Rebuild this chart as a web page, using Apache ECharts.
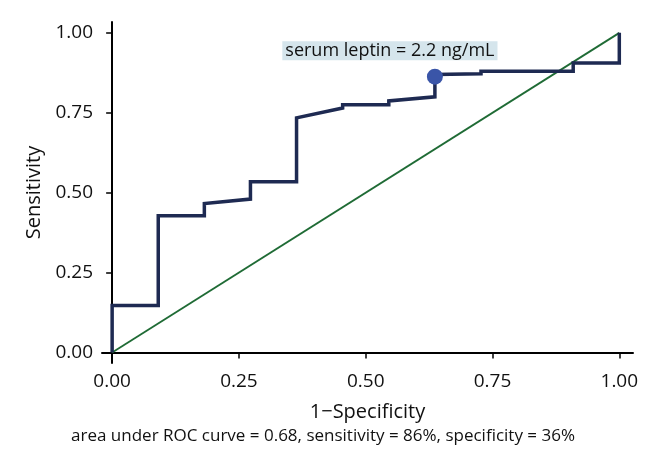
<!DOCTYPE html>
<html>
<head>
<meta charset="utf-8">
<script src="https://cdn.jsdelivr.net/npm/echarts@6/dist/echarts.min.js"></script>
<style>
  html, body { margin: 0; padding: 0; background: #fff; }
  #main { width: 646px; height: 453px; }
</style>
</head>
<body>
<div id="main"></div>
<script>
var myChart = echarts.init(document.getElementById('main'));

// ROC curve points (1-specificity, sensitivity)
var fpr = [0, 0, 0.0909, 0.0909, 0.1818, 0.1818, 0.2727, 0.2727, 0.3636, 0.3636, 0.4545, 0.4545, 0.5455, 0.5455, 0.6364, 0.6364, 0.7273, 0.7273, 0.9091, 0.9091, 1, 1];
var tpr = [0, 0.147, 0.147, 0.428, 0.428, 0.466, 0.48, 0.534, 0.534, 0.734, 0.765, 0.775, 0.775, 0.787, 0.80, 0.87, 0.872, 0.88, 0.88, 0.906, 0.906, 1];

// reference line
var refX = [0, 1];
var refY = [0, 1];

// chosen cut-off
var cutX = [0.6364];
var cutY = [0.863];
var cutLabel = 'serum leptin = 2.2 ng/mL';

var ticks = [0, 0.25, 0.5, 0.75, 1];
var fontFam = '"Open Sans", "DejaVu Sans", sans-serif';

function pairs(xs, ys) {
  return xs.map(function (x, i) { return [x, ys[i]]; });
}

myChart.setOption({
  animation: false,
  backgroundColor: '#fff',
  grid: { left: 102, right: 13, top: 22, bottom: 90 },
  xAxis: {
    type: 'value',
    min: -0.02,
    max: 1.027,
    name: '1\u2212Specificity',
    nameLocation: 'middle',
    nameGap: 39,
    nameTextStyle: { fontSize: 20, color: '#111', fontFamily: fontFam },
    splitLine: { show: false },
    axisLine: { lineStyle: { color: '#000', width: 2 } },
    axisTick: { customValues: ticks, length: 6, lineStyle: { color: '#000', width: 1.5 } },
    axisLabel: {
      customValues: ticks,
      formatter: function (v) { return v.toFixed(2); },
      fontSize: 19, color: '#111', fontFamily: fontFam, margin: 9
    }
  },
  yAxis: {
    type: 'value',
    min: -0.033,
    max: 1.034,
    name: 'Sensitivity',
    nameLocation: 'middle',
    nameGap: 58,
    nameTextStyle: { fontSize: 20, color: '#111', fontFamily: fontFam },
    splitLine: { show: false },
    axisLine: { show: true, lineStyle: { color: '#000', width: 2 } },
    axisTick: { show: true, customValues: ticks, length: 6, lineStyle: { color: '#000', width: 1.5 } },
    axisLabel: {
      customValues: ticks,
      formatter: function (v) { return v.toFixed(2); },
      fontSize: 19, color: '#111', fontFamily: fontFam, margin: 9
    }
  },
  graphic: [{
    type: 'text',
    left: 'center',
    top: 428,
    style: {
      text: 'area under ROC curve = 0.68, sensitivity = 86%, specificity = 36%',
      fontSize: 17, fill: '#111', fontFamily: fontFam
    }
  }],
  series: [
    {
      type: 'line',
      data: pairs(refX, refY),
      symbol: 'none',
      lineStyle: { color: '#1f6b35', width: 1.8 },
      z: 2
    },
    {
      type: 'line',
      data: pairs(fpr, tpr),
      symbol: 'none',
      lineStyle: { color: '#1e2a52', width: 3.5, join: 'miter' },
      z: 3
    },
    {
      type: 'scatter',
      data: pairs(cutX, cutY),
      symbolSize: 16,
      itemStyle: { color: '#3a55a8', opacity: 1 },
      z: 4,
      label: {
        show: true,
        position: 'inside',
        offset: [-45, -26],
        formatter: cutLabel,
        fontSize: 18,
        color: '#111',
        fontFamily: fontFam,
        backgroundColor: '#d5e5ec',
        padding: [1, 3, 0, 3]
      }
    }
  ]
});
</script>
</body>
</html>
